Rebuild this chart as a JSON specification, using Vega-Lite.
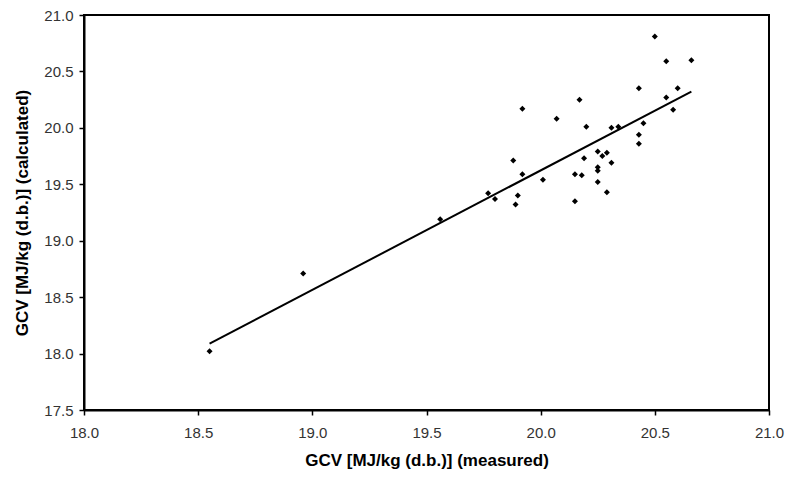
{
  "$schema": "https://vega.github.io/schema/vega-lite/v6.json",
  "width": 685,
  "height": 395,
  "autosize": "none",
  "padding": {"left": 84, "top": 15, "right": 16, "bottom": 67},
  "background": "white",
  "config": {
    "font": "Liberation Sans",
    "view": {"stroke": "black", "strokeWidth": 2},
    "axis": {
      "grid": false,
      "domainColor": "black",
      "domainWidth": 2,
      "tickColor": "black",
      "tickWidth": 1.5,
      "tickSize": 5,
      "labelFlush": false,
      "labelFont": "Liberation Sans",
      "labelFontSize": 15,
      "labelColor": "#333333",
      "titleFont": "Liberation Sans",
      "titleFontSize": 17,
      "titleFontWeight": "bold",
      "titleColor": "black"
    }
  },
  "data": {
    "values": [
      {"measured": 18.55, "calculated": 18.02},
      {"measured": 18.96, "calculated": 18.71},
      {"measured": 19.56, "calculated": 19.19},
      {"measured": 19.77, "calculated": 19.42},
      {"measured": 19.80, "calculated": 19.37},
      {"measured": 19.89, "calculated": 19.32},
      {"measured": 19.90, "calculated": 19.40},
      {"measured": 19.88, "calculated": 19.71},
      {"measured": 19.92, "calculated": 19.59},
      {"measured": 19.92, "calculated": 20.17},
      {"measured": 20.01, "calculated": 19.54},
      {"measured": 20.07, "calculated": 20.08},
      {"measured": 20.15, "calculated": 19.35},
      {"measured": 20.15, "calculated": 19.59},
      {"measured": 20.18, "calculated": 19.58},
      {"measured": 20.17, "calculated": 20.25},
      {"measured": 20.19, "calculated": 19.73},
      {"measured": 20.20, "calculated": 20.01},
      {"measured": 20.25, "calculated": 19.79},
      {"measured": 20.25, "calculated": 19.65},
      {"measured": 20.25, "calculated": 19.62},
      {"measured": 20.25, "calculated": 19.52},
      {"measured": 20.27, "calculated": 19.75},
      {"measured": 20.29, "calculated": 19.78},
      {"measured": 20.29, "calculated": 19.43},
      {"measured": 20.31, "calculated": 19.69},
      {"measured": 20.31, "calculated": 20.00},
      {"measured": 20.34, "calculated": 20.01},
      {"measured": 20.43, "calculated": 19.86},
      {"measured": 20.43, "calculated": 19.94},
      {"measured": 20.43, "calculated": 20.35},
      {"measured": 20.45, "calculated": 20.04},
      {"measured": 20.50, "calculated": 20.81},
      {"measured": 20.55, "calculated": 20.59},
      {"measured": 20.55, "calculated": 20.27},
      {"measured": 20.58, "calculated": 20.16},
      {"measured": 20.60, "calculated": 20.35},
      {"measured": 20.66, "calculated": 20.60}
    ]
  },
  "encoding": {
    "x": {
      "field": "measured",
      "type": "quantitative",
      "scale": {"domain": [18, 21], "nice": false, "zero": false},
      "axis": {
        "title": "GCV [MJ/kg (d.b.)] (measured)",
        "values": [18, 18.5, 19, 19.5, 20, 20.5, 21],
        "format": ".1f",
        "labelPadding": 10,
        "titlePadding": 12
      }
    },
    "y": {
      "field": "calculated",
      "type": "quantitative",
      "scale": {"domain": [17.5, 21], "nice": false, "zero": false},
      "axis": {
        "title": "GCV [MJ/kg (d.b.)] (calculated)",
        "values": [17.5, 18, 18.5, 19, 19.5, 20, 20.5, 21],
        "format": ".1f",
        "labelPadding": 6,
        "titlePadding": 12
      }
    }
  },
  "layer": [
    {
      "mark": {"type": "point", "shape": "diamond", "filled": true, "size": 36, "color": "black", "opacity": 1}
    },
    {
      "transform": [
        {"regression": "calculated", "on": "measured", "method": "linear"}
      ],
      "mark": {"type": "line", "color": "black", "strokeWidth": 2}
    }
  ]
}
